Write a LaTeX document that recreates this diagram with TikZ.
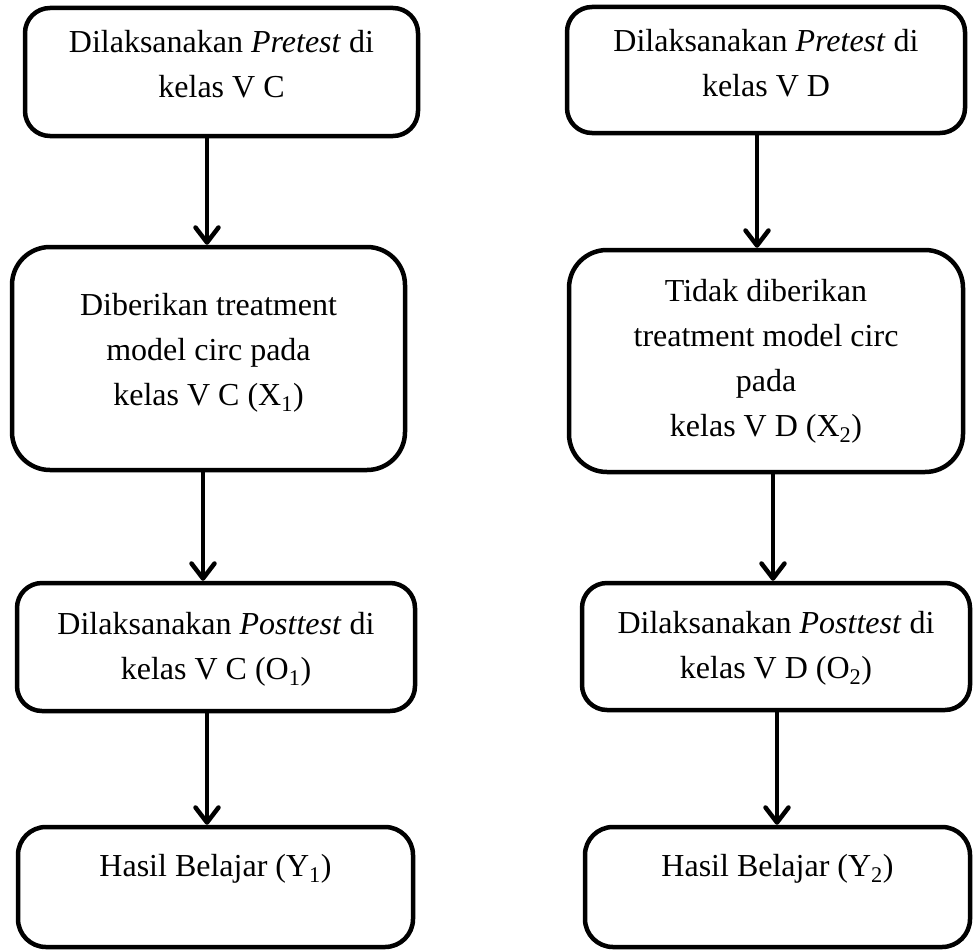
\documentclass[tikz,border=0pt]{standalone}
\usepackage{fontspec}
\setmainfont{Liberation Serif}
\usetikzlibrary{arrows.meta}

\begin{document}
\begin{tikzpicture}[x=1pt, y=-1pt,
		box/.style = {draw, line width=4.5pt, align=center, inner sep=0pt, text depth=7pt, font=\fontsize{32}{45}\selectfont},
		arr/.style = {line width=4.5pt, -{Straight Barb[length=15pt, width=23pt, line cap=round, line join=round]}}]
	\useasboundingbox (0,0) rectangle (973,950);
	\node [box, rounded corners=25pt, minimum width=393pt, minimum height=128pt, text height=57pt] (kiri1) at (221.5,72) {Dilaksanakan \textit{Pretest} di\\kelas V C};
	\node [box, rounded corners=38pt, minimum width=393pt, minimum height=223pt, text height=100pt] (kiri2) at (208.5,358.5) {Diberikan treatment\\model circ pada\\kelas V C (X\textsubscript{1})};
	\node [box, rounded corners=25pt, minimum width=398pt, minimum height=128pt, text height=71pt] (kiri3) at (216,647) {Dilaksanakan \textit{Posttest} di\\kelas V C (O\textsubscript{1})};
	\node [box, rounded corners=28pt, minimum width=395pt, minimum height=120pt, text height=23pt, text depth=45pt] (kiri4) at (215.5,887) {Hasil Belajar (Y\textsubscript{1})};
	\node [box, rounded corners=25pt, minimum width=398pt, minimum height=126pt, text height=59pt] (kanan1) at (766,70) {Dilaksanakan \textit{Pretest} di\\kelas V D};
	\node [box, rounded corners=38pt, minimum width=394pt, minimum height=222pt, text height=157pt] (kanan2) at (766,361) {Tidak diberikan\\treatment model circ\\pada\\kelas V D (X\textsubscript{2})};
	\node [box, rounded corners=25pt, minimum width=388pt, minimum height=127pt, text height=70pt] (kanan3) at (776,646.5) {Dilaksanakan \textit{Posttest} di\\kelas V D (O\textsubscript{2})};
	\node [box, rounded corners=28pt, minimum width=385pt, minimum height=120pt, text height=23pt, text depth=45pt] (kanan4) at (777.5,887) {Hasil Belajar (Y\textsubscript{2})};
	\draw [arr] ([xshift=-14.5pt]kiri1.south) -- ([xshift=-1.5pt]kiri2.north);
	\draw [arr] ([xshift=-5.5pt]kiri2.south) -- ([xshift=-13pt]kiri3.north);
	\draw [arr] ([xshift=-9pt]kiri3.south) -- ([xshift=-8.5pt]kiri4.north);
	\draw [arr] ([xshift=-9pt]kanan1.south) -- ([xshift=-9pt]kanan2.north);
	\draw [arr] ([xshift=7pt]kanan2.south) -- ([xshift=-3pt]kanan3.north);
	\draw [arr] ([xshift=1pt]kanan3.south) -- ([xshift=-0.5pt]kanan4.north);
\end{tikzpicture}
\end{document}
